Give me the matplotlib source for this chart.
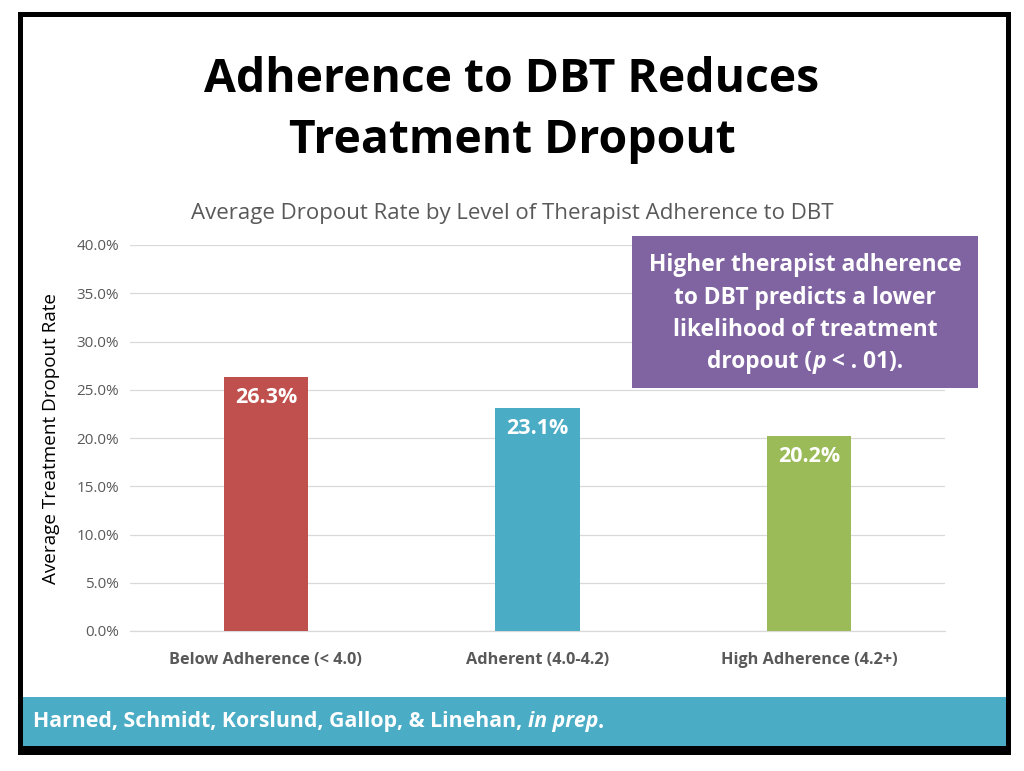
import matplotlib
matplotlib.use("Agg")
import matplotlib.pyplot as plt
from matplotlib.patches import Rectangle
from matplotlib.ticker import FuncFormatter

categories = ["Below Adherence (< 4.0)", "Adherent (4.0-4.2)", "High Adherence (4.2+)"]
values = [26.3, 23.1, 20.2]
colors = ["#C0504D", "#4BACC6", "#9BBB59"]
yticks = [0, 5, 10, 15, 20, 25, 30, 35, 40]

FONT = ["Open Sans", "DejaVu Sans"]
plt.rcParams['font.family'] = FONT

fig = plt.figure(figsize=(10.24, 7.71), dpi=100)
W, H = 1024, 771

def fx(px): return px / W
def fy(py): return 1 - py / H

r = fig.canvas.get_renderer()

def pieces(x_px, y_px, parts, align="left", **kw):
    """Draw a sequence of (text, style) pieces on one line."""
    objs = []
    for t, st in parts:
        objs.append(fig.text(0, fy(y_px), t, ha="left", va="center", style=st, **kw))
    widths = [o.get_window_extent(renderer=r).width for o in objs]
    total = sum(widths)
    start = x_px - total / 2 if align == "center" else x_px
    cur = start
    for o, w in zip(objs, widths):
        o.set_x(fx(cur))
        cur += w

# outer frame
fig.patches.append(Rectangle((fx(19.5), fy(752)), fx(988), (752 - 14) / H,
                             transform=fig.transFigure, fill=False,
                             edgecolor="black", linewidth=3.6, zorder=5))
# footer band
fig.patches.append(Rectangle((fx(21), fy(746)), fx(986), (746 - 697) / H,
                             transform=fig.transFigure, facecolor="#4BACC6",
                             edgecolor="none", zorder=1))
fig.patches.append(Rectangle((fx(19), fy(754)), fx(990), 8 / H,
                             transform=fig.transFigure, facecolor="black",
                             edgecolor="none", zorder=4))

fig.text(0.5, fy(79), "Adherence to DBT Reduces", ha="center", va="center",
         fontsize=33.3, fontweight="bold", color="black", family=FONT)
fig.text(0.5, fy(141), "Treatment Dropout", ha="center", va="center",
         fontsize=33.3, fontweight="bold", color="black", family=FONT)

fig.text(0.5, fy(213), "Average Dropout Rate by Level of Therapist Adherence to DBT",
         ha="center", va="center", fontsize=16, color="#595959", family=FONT)

ax = fig.add_axes([fx(130), fy(631), fx(945) - fx(130), (631 - 245) / H])
x = list(range(len(categories)))
ax.bar(x, values, width=0.31, color=colors, zorder=3)
ax.set_xlim(-0.5, 2.5)
ax.set_ylim(0, 40)
ax.set_yticks(yticks)
ax.yaxis.set_major_formatter(FuncFormatter(lambda v, p: f"{v:.1f}%"))
ax.set_xticks(x)
ax.set_xticklabels(categories, fontsize=11.7, fontweight="bold", color="#595959")
ax.tick_params(axis="y", labelsize=11, colors="#595959", length=0, pad=8)
ax.tick_params(axis="x", length=0, pad=15)
ax.grid(axis="y", color="#D9D9D9", linewidth=0.9, zorder=0)
for s in ["top", "right", "left"]:
    ax.spines[s].set_visible(False)
ax.spines["bottom"].set_color("#D9D9D9")
ax.spines["bottom"].set_linewidth(0.9)
ax.set_ylabel("Average Treatment Dropout Rate", fontsize=13.6, color="black")
ax.yaxis.set_label_coords(-0.086, 0.5)

for xi, v in zip(x, values):
    ax.text(xi, v - 1.05, f"{v:.1f}%", ha="center", va="top", color="white",
            fontsize=15.5, fontweight="bold", zorder=4)

# purple callout
fig.patches.append(Rectangle((fx(632), fy(388)), fx(978) - fx(632), (388 - 236) / H,
                             transform=fig.transFigure, facecolor="#8064A2",
                             edgecolor="none", zorder=6))
lines = ["Higher therapist adherence", "to DBT predicts a lower",
         "likelihood of treatment"]
ys = [265, 298, 330]
for t, yy in zip(lines, ys):
    fig.text(fx(805), fy(yy), t, ha="center", va="center", color="white",
             fontsize=16.4, fontweight="bold", zorder=7, family=FONT)
pieces(805, 362, [("dropout (", "normal"), ("p", "italic"), (" < . 01).", "normal")],
       align="center", color="white", fontsize=16.4, fontweight="bold", zorder=7,
       family=FONT)

pieces(33, 722, [("Harned, Schmidt, Korslund, Gallop, & Linehan, ", "normal"),
                 ("in prep", "italic"), (".", "normal")],
       color="white", fontsize=15.3, fontweight="bold", zorder=7, family=FONT)

fig.savefig("out.png", dpi=100)
